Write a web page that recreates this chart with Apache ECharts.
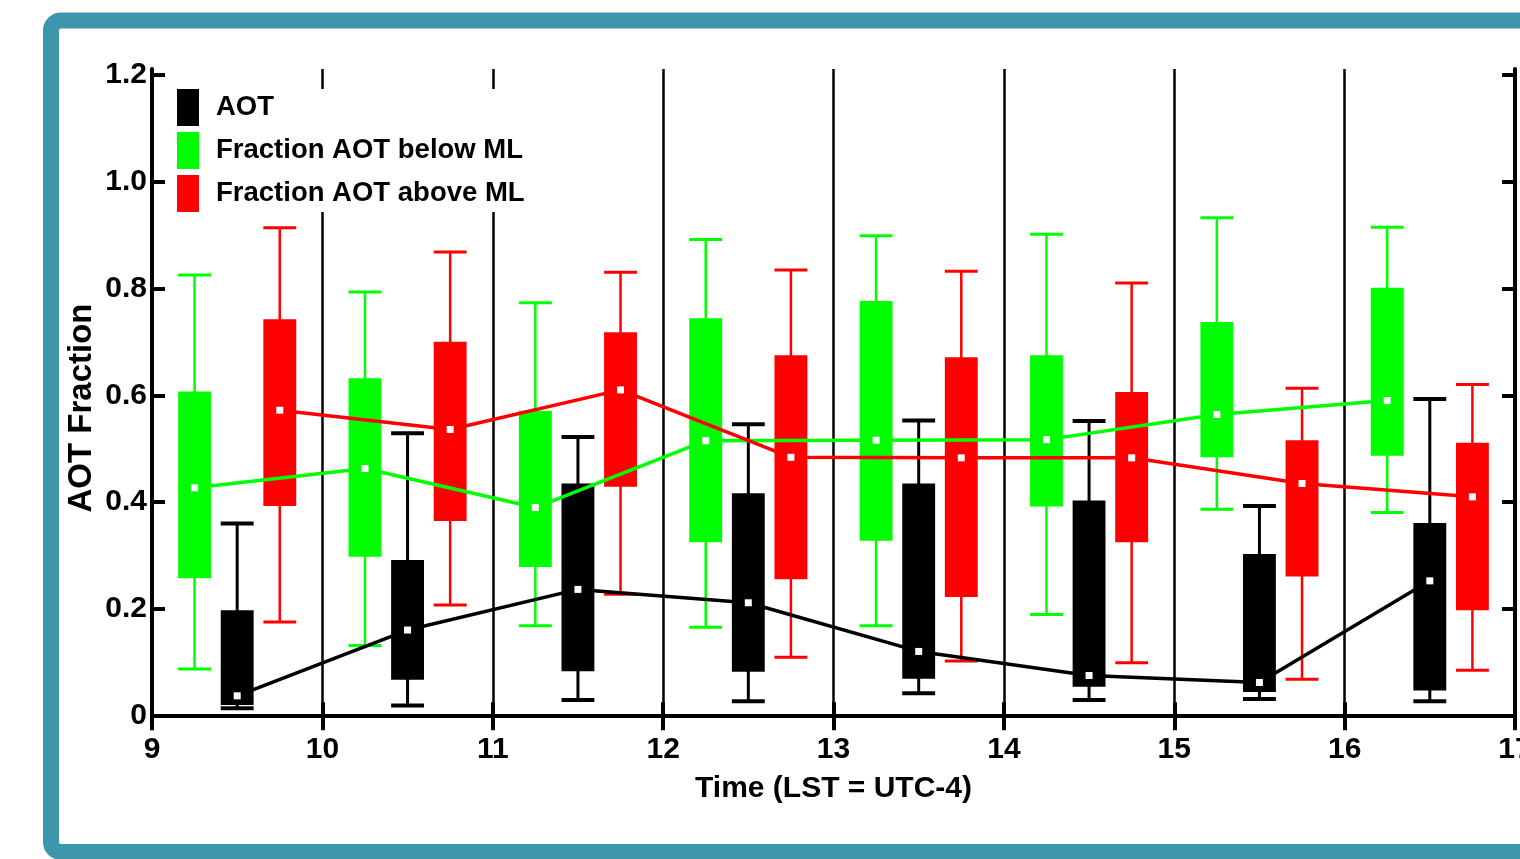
<!DOCTYPE html>
<html>
<head>
<meta charset="utf-8">
<script src="https://cdn.jsdelivr.net/npm/echarts@6/dist/echarts.min.js"></script>
<style>
html,body{margin:0;padding:0;background:#fff;}
#chart{width:1520px;height:859px;}
</style>
</head>
<body>
<div id="chart"></div>
<script>
// ---- data ----
const hours = [9, 10, 11, 12, 13, 14, 15, 16];
const yTicks = [0, 0.2, 0.4, 0.6, 0.8, 1.0, 1.2];
const seriesNames = ['AOT', 'Fraction AOT below ML', 'Fraction AOT above ML'];

// Fraction AOT below ML (green), box centred at hour + 0.25
const belowHigh = [0.825, 0.793, 0.773, 0.891, 0.898, 0.901, 0.932, 0.914];
const belowQ3   = [0.607, 0.632, 0.571, 0.744, 0.776, 0.675, 0.737, 0.801];
const belowMed  = [0.427, 0.463, 0.390, 0.515, 0.516, 0.517, 0.564, 0.590];
const belowQ1   = [0.258, 0.298, 0.279, 0.325, 0.328, 0.392, 0.484, 0.487];
const belowLow  = [0.088, 0.132, 0.169, 0.166, 0.169, 0.190, 0.387, 0.381];

// AOT (black), box centred at hour + 0.5
const aotHigh = [0.360, 0.529, 0.522, 0.546, 0.553, 0.552, 0.393, 0.593];
const aotQ3   = [0.198, 0.292, 0.435, 0.417, 0.435, 0.403, 0.303, 0.361];
const aotMed  = [0.038, 0.161, 0.237, 0.212, 0.121, 0.076, 0.063, 0.253];
const aotQ1   = [0.021, 0.068, 0.084, 0.083, 0.070, 0.055, 0.045, 0.048];
const aotLow  = [0.015, 0.020, 0.030, 0.028, 0.043, 0.030, 0.032, 0.028];

// Fraction AOT above ML (red), box centred at hour + 0.75
const aboveHigh = [0.913, 0.868, 0.830, 0.834, 0.832, 0.810, 0.613, 0.620];
const aboveQ3   = [0.742, 0.700, 0.718, 0.675, 0.671, 0.606, 0.516, 0.511];
const aboveMed  = [0.572, 0.536, 0.610, 0.484, 0.483, 0.483, 0.435, 0.410];
const aboveQ1   = [0.393, 0.365, 0.429, 0.256, 0.223, 0.325, 0.261, 0.198];
const aboveLow  = [0.176, 0.208, 0.228, 0.110, 0.103, 0.100, 0.069, 0.086];

// ---- layout / style ----
const FONT = "'Liberation Sans', Arial, Helvetica, sans-serif";
const BOX_W = 0.193; // hours
const OFF_BELOW = 0.25, OFF_AOT = 0.5, OFF_ABOVE = 0.75;

function boxRows(off, lo, q1, med, q3, hi) {
  return hours.map((h, i) => [h + off, lo[i], q1[i], med[i], q3[i], hi[i]]);
}
function medRows(off, med) {
  return hours.map((h, i) => [h + off, med[i]]);
}
function makeRender(color, capW, stemW) {
  return function (params, api) {
    const x = api.value(0);
    const lo = api.coord([x, api.value(1)]);
    const q1 = api.coord([x, api.value(2)]);
    const q3 = api.coord([x, api.value(4)]);
    const hi = api.coord([x, api.value(5)]);
    const w = api.size([BOX_W, 0])[0];
    const cx = lo[0];
    return {
      type: 'group',
      children: [
        {type: 'line', shape: {x1: cx, y1: hi[1], x2: cx, y2: lo[1]}, style: {stroke: color, lineWidth: stemW}},
        {type: 'line', shape: {x1: cx - w / 2, y1: hi[1], x2: cx + w / 2, y2: hi[1]}, style: {stroke: color, lineWidth: capW}},
        {type: 'line', shape: {x1: cx - w / 2, y1: lo[1], x2: cx + w / 2, y2: lo[1]}, style: {stroke: color, lineWidth: capW}},
        {type: 'rect', shape: {x: cx - w / 2, y: q3[1], width: w, height: q1[1] - q3[1]}, style: {fill: color}}
      ]
    };
  };
}

const tickFmt = v => (Math.abs(v) < 1e-9 ? '0' : v.toFixed(1));

const chart = echarts.init(document.getElementById('chart'), null, {renderer: 'canvas'});
const option = {
  animation: false,
  backgroundColor: '#fff',
  graphic: [
    {type: 'rect', z: -10, silent: true,
     shape: {x: 51, y: 20.5, width: 1700, height: 831.5, r: 10},
     style: {fill: 'none', stroke: '#3e96ac', lineWidth: 16}},
    {type: 'text', z: 10, silent: true, x: 82, y: 408, rotation: Math.PI / 2,
     style: {text: 'AOT Fraction', font: 'bold 33px ' + FONT, fill: '#000', align: 'center', verticalAlign: 'middle'}}
  ],
  grid: {left: 152, right: 5, top: 69, bottom: 137.5, containLabel: false, outerBoundsMode: 'none'},
  legend: {
    data: seriesNames, orient: 'vertical', left: 165, top: 89,
    icon: 'rect', itemWidth: 22, itemHeight: 37, itemGap: 6,
    padding: [0, 12, 0, 12], backgroundColor: '#fff', selectedMode: false,
    textStyle: {fontSize: 27.5, fontWeight: 'bold', fontFamily: FONT, color: '#000', padding: [4, 0, 0, 12]}
  },
  xAxis: [
    {type: 'value', min: 9, max: 17, interval: 1, position: 'bottom',
     name: 'Time (LST = UTC-4)', nameLocation: 'middle', nameGap: 52,
     nameTextStyle: {fontSize: 30, fontWeight: 'bold', fontFamily: FONT, color: '#000'},
     axisLine: {show: true, lineStyle: {color: '#000', width: 4}},
     axisTick: {show: true, inside: true, length: 14, lineStyle: {color: '#000', width: 4}},
     axisLabel: {show: true, margin: 13, fontSize: 30, fontWeight: 'bold', fontFamily: FONT, color: '#000'},
     splitLine: {show: true, lineStyle: {color: '#000', width: 2.5}}},
    {type: 'value', min: 9, max: 17, interval: 1, position: 'top',
     axisLine: {show: true, lineStyle: {color: '#000', width: 4}},
     axisTick: {show: true, inside: true, length: 14, lineStyle: {color: '#000', width: 4}},
     axisLabel: {show: false}, splitLine: {show: false}}
  ],
  yAxis: [
    {type: 'value', min: -0.01, max: 1.21, position: 'left',
     axisLine: {show: true, lineStyle: {color: '#000', width: 4}},
     axisTick: {show: true, inside: true, length: 13, customValues: yTicks, lineStyle: {color: '#000', width: 4}},
     axisLabel: {show: true, margin: 5, customValues: yTicks, formatter: tickFmt,
                 fontSize: 30, fontWeight: 'bold', fontFamily: FONT, color: '#000'},
     splitLine: {show: false}},
    {type: 'value', min: -0.01, max: 1.21, position: 'right',
     axisLine: {show: true, lineStyle: {color: '#000', width: 4}},
     axisTick: {show: true, inside: true, length: 13, customValues: yTicks, lineStyle: {color: '#000', width: 4}},
     axisLabel: {show: false}, splitLine: {show: false}}
  ],
  series: [
    {name: seriesNames[1], type: 'custom', z: 2, itemStyle: {color: '#00ff00'},
     renderItem: makeRender('#00ff00', 3, 2.5), encode: {x: 0, y: [1, 2, 3, 4, 5]},
     data: boxRows(OFF_BELOW, belowLow, belowQ1, belowMed, belowQ3, belowHigh)},
    {name: seriesNames[0], type: 'custom', z: 2, itemStyle: {color: '#000000'},
     renderItem: makeRender('#000000', 4, 3), encode: {x: 0, y: [1, 2, 3, 4, 5]},
     data: boxRows(OFF_AOT, aotLow, aotQ1, aotMed, aotQ3, aotHigh)},
    {name: seriesNames[2], type: 'custom', z: 2, itemStyle: {color: '#ff0000'},
     renderItem: makeRender('#ff0000', 3, 2.5), encode: {x: 0, y: [1, 2, 3, 4, 5]},
     data: boxRows(OFF_ABOVE, aboveLow, aboveQ1, aboveMed, aboveQ3, aboveHigh)},

    {name: 'below median', type: 'line', z: 3, showSymbol: false, lineStyle: {color: '#00ff00', width: 3.5},
     itemStyle: {color: '#00ff00'}, data: medRows(OFF_BELOW, belowMed)},
    {name: 'AOT median', type: 'line', z: 3, showSymbol: false, lineStyle: {color: '#000000', width: 3.5},
     itemStyle: {color: '#000000'}, data: medRows(OFF_AOT, aotMed)},
    {name: 'above median', type: 'line', z: 3, showSymbol: false, lineStyle: {color: '#ff0000', width: 3.5},
     itemStyle: {color: '#ff0000'}, data: medRows(OFF_ABOVE, aboveMed)},

    {name: 'below marker', type: 'scatter', z: 5, symbol: 'rect', symbolSize: 7, itemStyle: {color: '#ffffff', opacity: 1},
     data: medRows(OFF_BELOW, belowMed)},
    {name: 'AOT marker', type: 'scatter', z: 5, symbol: 'rect', symbolSize: 7, itemStyle: {color: '#ffffff', opacity: 1},
     data: medRows(OFF_AOT, aotMed)},
    {name: 'above marker', type: 'scatter', z: 5, symbol: 'rect', symbolSize: 7, itemStyle: {color: '#ffffff', opacity: 1},
     data: medRows(OFF_ABOVE, aboveMed)}
  ]
};
chart.setOption(option);
</script>
</body>
</html>
